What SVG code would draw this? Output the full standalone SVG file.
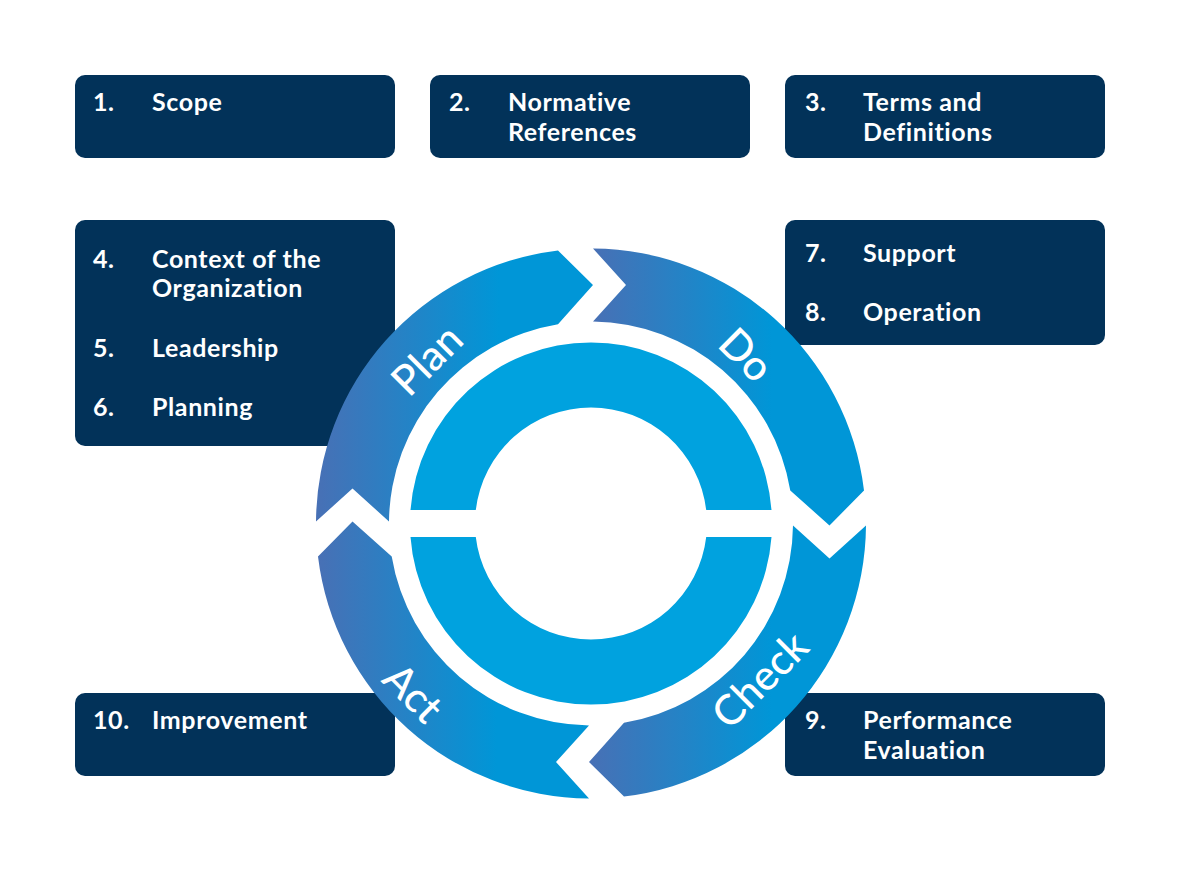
<svg xmlns="http://www.w3.org/2000/svg" width="1181" height="876" viewBox="0 0 1181 876">
<defs>
<linearGradient id="seg" x1="0" y1="0" x2="0.66" y2="0" gradientUnits="objectBoundingBox">
<stop offset="0" stop-color="#4870b5"/>
<stop offset="1" stop-color="#0096d7"/>
</linearGradient>
<style>
.box{fill:#023259}
.t{font-family:Lato,"Noto Sans","Liberation Sans",sans-serif;font-weight:700;font-size:25px;fill:#ffffff;letter-spacing:0.6px}
.seg{fill:url(#seg)}
.inner{fill:#00a2df}
.rt{font-family:Lato,"Noto Sans","Liberation Sans",sans-serif;font-weight:500;font-size:42px;fill:#ffffff;text-anchor:middle;dominant-baseline:central}
</style>
</defs>
<rect width="1181" height="876" fill="#ffffff"/>
<g id="box1">
<rect class="box" x="75" y="75" width="320" height="83" rx="10"/>
<text class="t" x="93" y="111">1.</text><text class="t" x="152" y="111">Scope</text>
</g>
<g id="box2">
<rect class="box" x="430" y="75" width="320" height="83" rx="10"/>
<text class="t" x="449" y="111">2.</text><text class="t" x="508" y="111">Normative</text><text class="t" x="508" y="141">References</text>
</g>
<g id="box3">
<rect class="box" x="785" y="75" width="320" height="83" rx="10"/>
<text class="t" x="805" y="111">3.</text><text class="t" x="863" y="111">Terms and</text><text class="t" x="863" y="141">Definitions</text>
</g>
<g id="box4">
<rect class="box" x="75" y="220" width="320" height="226" rx="10"/>
<text class="t" x="93" y="268">4.</text><text class="t" x="152" y="268">Context of the</text><text class="t" x="152" y="297">Organization</text>
<text class="t" x="93" y="357">5.</text><text class="t" x="152" y="357">Leadership</text>
<text class="t" x="93" y="416">6.</text><text class="t" x="152" y="416">Planning</text>
</g>
<g id="box7">
<rect class="box" x="785" y="220" width="320" height="125" rx="10"/>
<text class="t" x="805" y="262">7.</text><text class="t" x="863" y="262">Support</text>
<text class="t" x="805" y="321">8.</text><text class="t" x="863" y="321">Operation</text>
</g>
<g id="box10">
<rect class="box" x="75" y="693" width="320" height="83" rx="10"/>
<text class="t" x="93" y="729">10.</text><text class="t" x="152" y="729">Improvement</text>
</g>
<g id="box9">
<rect class="box" x="785" y="693" width="320" height="83" rx="10"/>
<text class="t" x="805" y="729">9.</text><text class="t" x="863" y="729">Performance</text><text class="t" x="863" y="759">Evaluation</text>
</g>
<g id="cycle">
<g id="inner-ring">
<path class="inner" d="M 410.5 510 A 181 181 0 0 1 771.5 510 L 706.21 510 A 116 116 0 0 0 475.79 510 Z"/>
<path class="inner" d="M 410.5 537 A 181 181 0 0 0 771.5 537 L 706.21 537 A 116 116 0 0 1 475.79 537 Z"/>
</g>
<g id="plan">
<path class="seg" d="M 316 521.5 A 275 275 0 0 1 558 250.49 L 593 285 L 558 324.21 A 202 202 0 0 0 389 521.5 L 352.5 488.5 Z"/>
<text class="rt" transform="translate(426 359) rotate(-45)">Plan</text>
</g>
<g id="do">
<path class="seg" d="M 593 248.5 A 275 275 0 0 1 864.01 490.5 L 829.5 525.5 L 790.29 490.5 A 202 202 0 0 0 593 321.5 L 626 285 Z"/>
<text class="rt" transform="translate(747 354) rotate(45)">Do</text>
</g>
<g id="check">
<path class="seg" d="M 866 525.5 A 275 275 0 0 1 624 796.51 L 589 762 L 624 722.79 A 202 202 0 0 0 793 525.5 L 829.5 558.5 Z"/>
<text class="rt" transform="translate(759 679) rotate(-45)">Check</text>
</g>
<g id="act">
<path class="seg" d="M 589 798.5 A 275 275 0 0 1 317.99 556.5 L 352.5 521.5 L 391.71 556.5 A 202 202 0 0 0 589 725.5 L 556 762 Z"/>
<text class="rt" transform="translate(414 692) rotate(45)">Act</text>
</g>
</g>
<g id="connectors"></g>
</svg>
